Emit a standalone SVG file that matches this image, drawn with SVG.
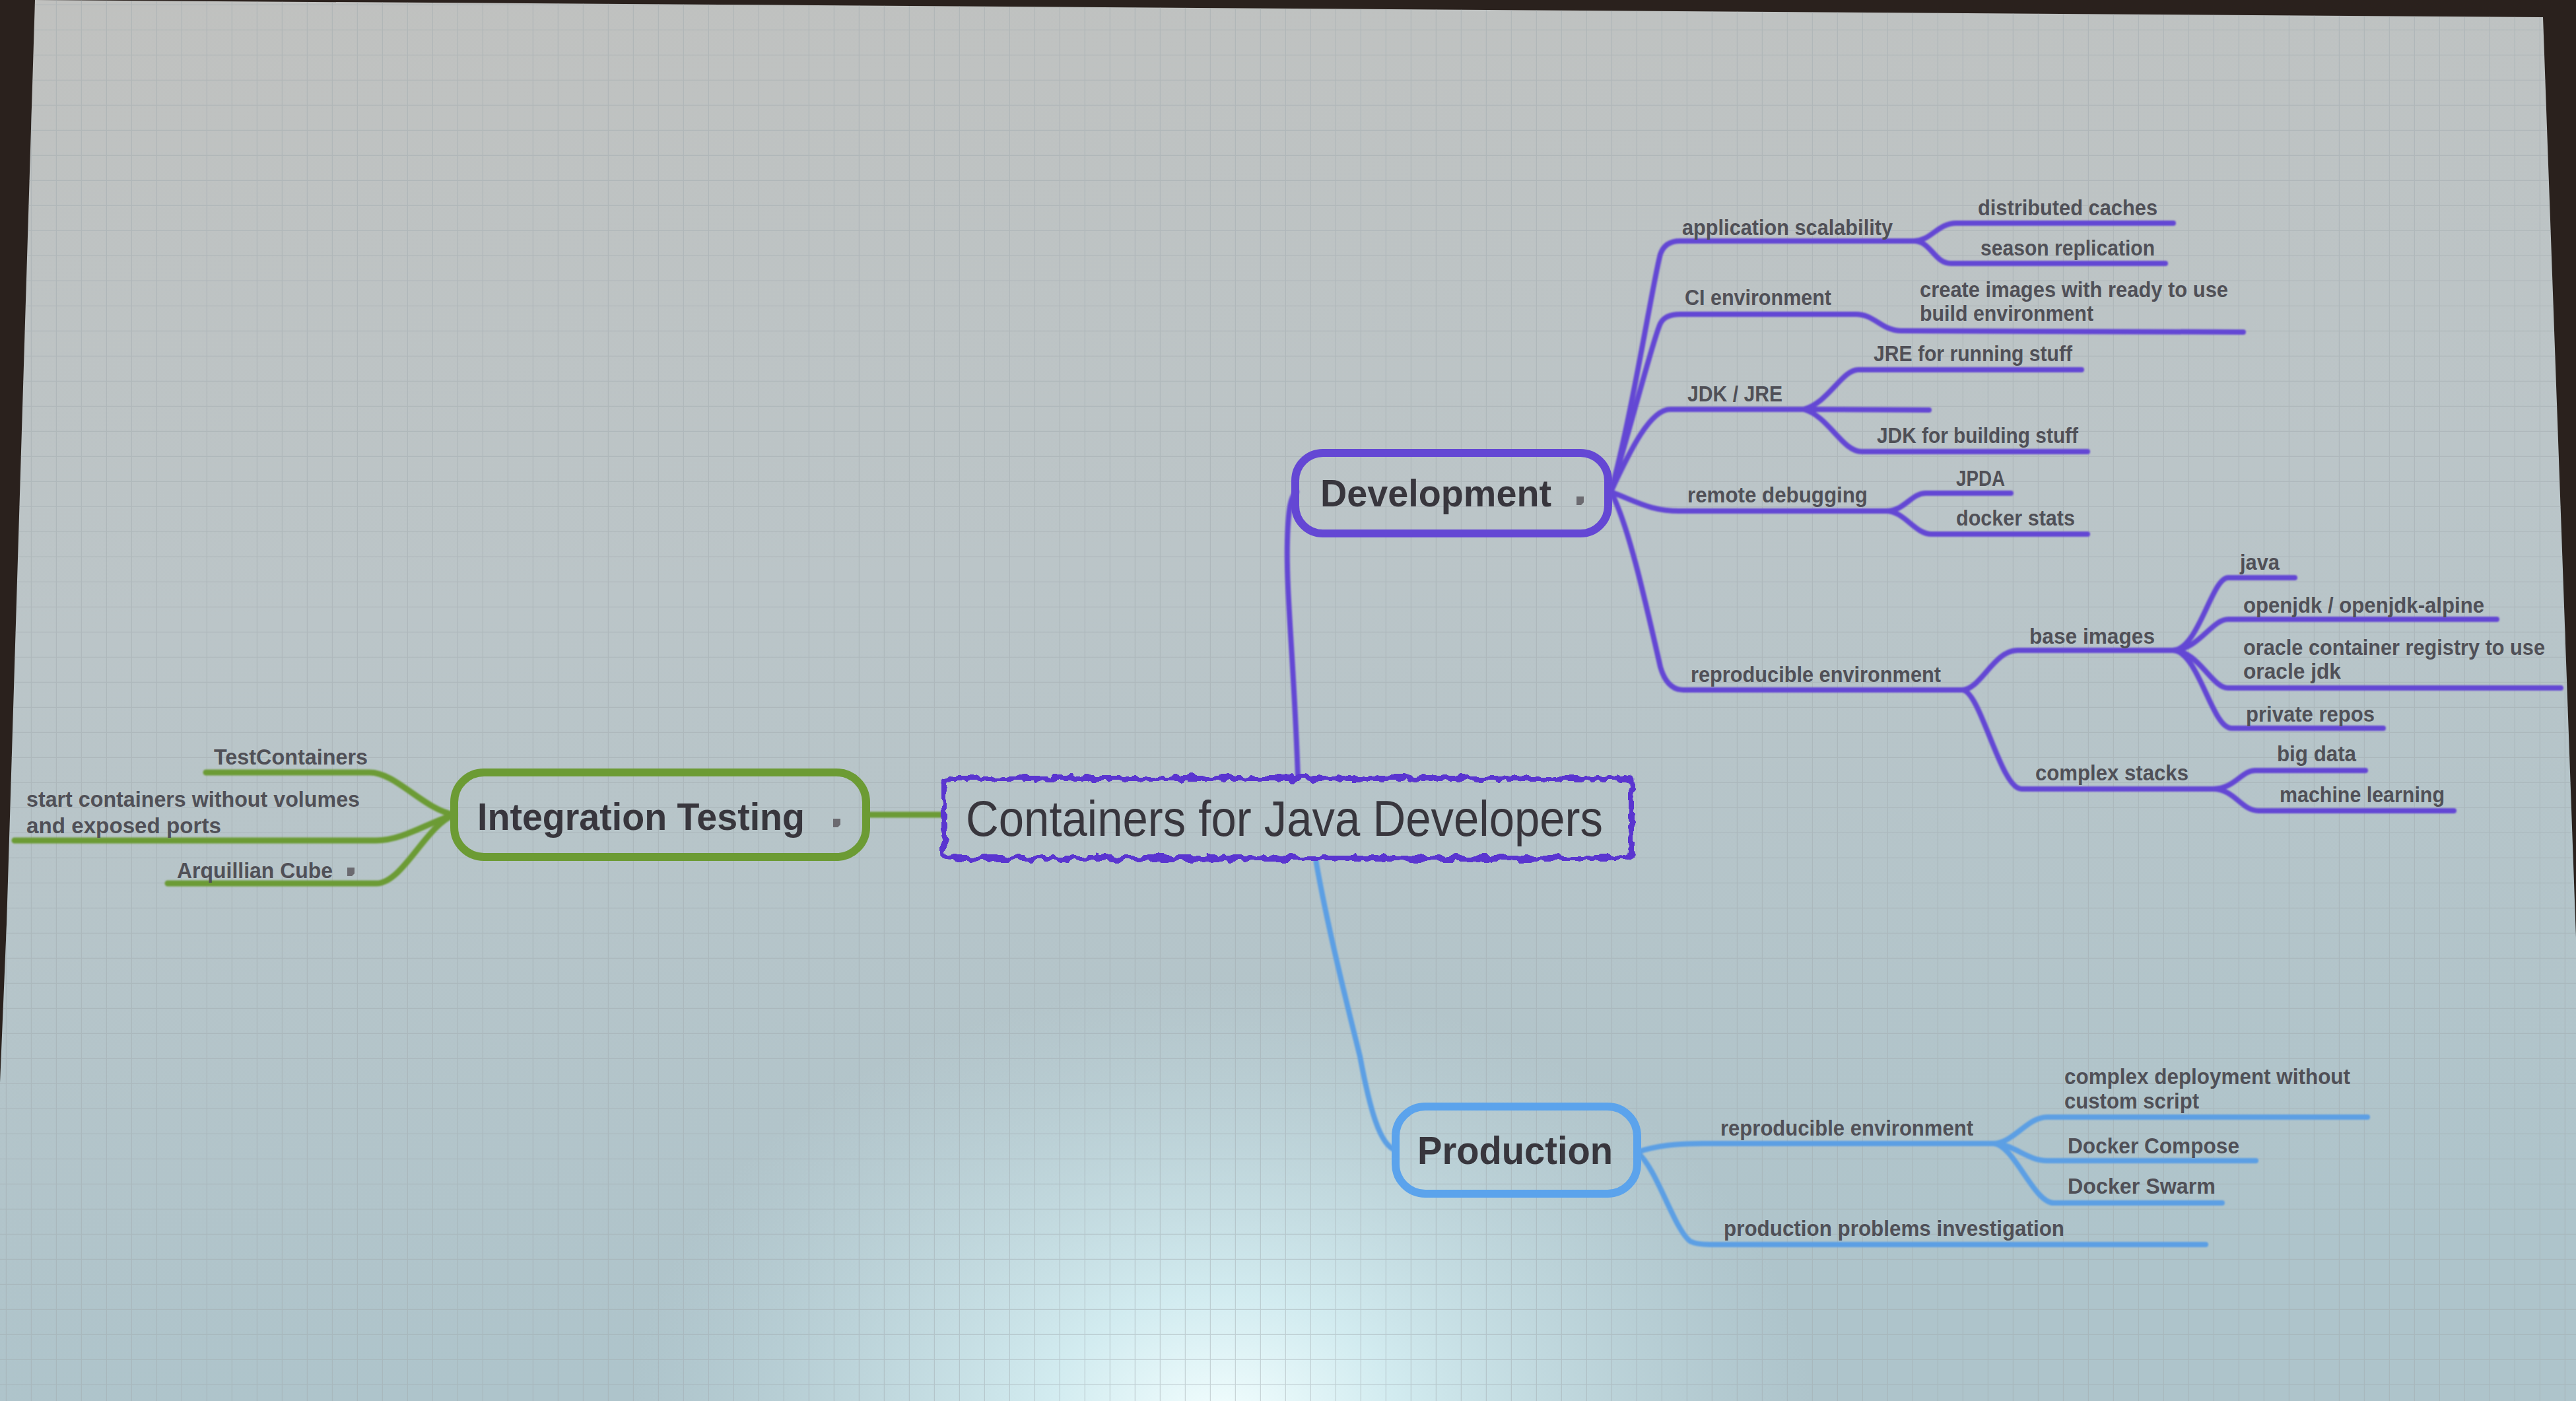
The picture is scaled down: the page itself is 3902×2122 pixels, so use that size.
<svg xmlns="http://www.w3.org/2000/svg" width="3902" height="2122" viewBox="0 0 3902 2122">
  <defs>
    <linearGradient id="bg" x1="0" y1="0" x2="0.15" y2="1">
      <stop offset="0" stop-color="#c0c1bf"/>
      <stop offset="0.45" stop-color="#bbc5c8"/>
      <stop offset="1" stop-color="#aec4cb"/>
    </linearGradient>
    <radialGradient id="glow" cx="1850" cy="2160" r="900" gradientUnits="userSpaceOnUse" gradientTransform="translate(1850 2160) scale(1 0.75) translate(-1850 -2160)">
      <stop offset="0" stop-color="#f4ffff" stop-opacity="1"/>
      <stop offset="0.3" stop-color="#d8f2f6" stop-opacity="0.85"/>
      <stop offset="1" stop-color="#c4dde3" stop-opacity="0"/>
    </radialGradient>
    <pattern id="grid" x="10" y="8" width="38" height="38" patternUnits="userSpaceOnUse">
      <path d="M38 0 V38 M0 38 H38" stroke="#9fa9ae" stroke-width="2.5" fill="none" opacity="0.45"/>
    </pattern>
    <filter id="wob" x="-5%" y="-30%" width="110%" height="160%">
      <feTurbulence type="fractalNoise" baseFrequency="0.06" numOctaves="2" seed="7" result="n"/>
      <feDisplacementMap in="SourceGraphic" in2="n" scale="15" xChannelSelector="R" yChannelSelector="G"/>
    </filter>
    <filter id="soft" x="-5%" y="-5%" width="110%" height="110%">
      <feGaussianBlur stdDeviation="1.2"/>
    </filter>
    <path id="icon" d="M0 0 h11 v9 l-4 4 h-7 z"/>
  </defs>
  <style>
    .main { font-family: "Liberation Sans", Arial, sans-serif; fill: #38363d; }
    .bold { font-weight: bold; }
    .sub { font-family: "Liberation Sans", Arial, sans-serif; font-size: 34px; font-weight: bold; fill: #505057; }
    .cp { stroke: #6447d4; fill: none; stroke-linecap: round; stroke-linejoin: round; stroke-width: 8; }
    .cg { stroke: #6c9b34; fill: none; stroke-linecap: round; stroke-linejoin: round; stroke-width: 9; }
    .cb { stroke: #5b9fe4; fill: none; stroke-linecap: round; stroke-linejoin: round; stroke-width: 8; }
    .ico { fill: #6b6a70; }
  </style>

  <!-- frame and screen -->
  <rect x="0" y="0" width="3902" height="2122" fill="#2a211d"/>
  <polygon points="53,0 3852,26 3902,1420 3902,2122 0,2122 0,1640 10,1400" fill="url(#bg)"/>
  <polygon points="53,0 3852,26 3902,1420 3902,2122 0,2122 0,1640 10,1400" fill="url(#glow)"/>
  <polygon points="53,0 3852,26 3902,1420 3902,2122 0,2122 0,1640 10,1400" fill="url(#grid)"/>

  <g id="connectors" filter="url(#soft)">
    <!-- centre to main nodes -->
    <path class="cg" d="M1312 1234 H1428" stroke-width="14"/>
    <path class="cp" d="M1966 1177 C1960 1000 1948 900 1950 820 C1951 772 1955 750 1964 745" stroke-width="10"/>
    <path class="cb" d="M1993 1302 C2010 1400 2040 1520 2060 1600 C2075 1680 2090 1735 2114 1742" stroke-width="9"/>

    <!-- integration testing children -->
    <path class="cg" d="M312 1170 L560 1170 C600 1170 640 1225 688 1234"/>
    <path class="cg" d="M22 1273 L570 1273 C610 1273 650 1245 688 1234"/>
    <path class="cg" d="M254 1338 L570 1338 C610 1338 645 1250 688 1234"/>

    <!-- development children -->
    <path class="cp" d="M2440 745 C2470 640 2505 420 2515 385 Q2522 365 2545 365 L2899 365"/>
    <path class="cp" d="M2899 365 C2925 365 2935 338 2963 338 L3292 338"/>
    <path class="cp" d="M2899 365 C2925 365 2930 399 2955 399 L3280 399"/>
    <path class="cp" d="M2440 745 C2475 630 2505 510 2515 490 Q2522 476 2545 476 L2811 476 C2840 476 2850 501 2880 501 L3398 503"/>
    <path class="cp" d="M2440 745 C2470 680 2500 620 2530 620 L2732 620"/>
    <path class="cp" d="M2732 620 C2770 610 2790 560 2815 560 L3153 560"/>
    <path class="cp" d="M2732 620 L2922 621"/>
    <path class="cp" d="M2732 620 C2770 630 2790 684 2820 684 L3162 684"/>
    <path class="cp" d="M2440 745 C2480 760 2500 774 2545 774 L2857 774"/>
    <path class="cp" d="M2857 774 C2885 774 2895 747 2917 747 L3046 747"/>
    <path class="cp" d="M2857 774 C2885 774 2900 809 2926 809 L3162 809"/>
    <path class="cp" d="M2440 745 C2465 790 2490 900 2515 1010 Q2525 1045 2550 1045 L2972 1045"/>
    <path class="cp" d="M2972 1045 C3000 1045 3020 985 3056 985 L3291 985"/>
    <path class="cp" d="M2972 1045 C3000 1045 3030 1195 3062 1195 L3352 1195"/>
    <path class="cp" d="M3291 985 C3330 985 3350 875 3375 875 L3476 875" stroke-width="7"/>
    <path class="cp" d="M3291 985 C3330 985 3350 938 3375 938 L3782 938" stroke-width="7"/>
    <path class="cp" d="M3291 985 C3330 985 3350 1042 3375 1042 L3879 1042" stroke-width="7"/>
    <path class="cp" d="M3291 985 C3330 985 3350 1103 3380 1103 L3610 1103" stroke-width="7"/>
    <path class="cp" d="M3352 1195 C3385 1195 3395 1167 3416 1167 L3583 1167" stroke-width="7"/>
    <path class="cp" d="M3352 1195 C3385 1195 3395 1228 3421 1228 L3717 1228" stroke-width="7"/>

    <!-- production children -->
    <path class="cb" d="M2480 1745 C2510 1735 2540 1732 2580 1732 L3019 1732"/>
    <path class="cb" d="M3019 1732 C3050 1732 3070 1692 3101 1692 L3586 1692" stroke-width="7"/>
    <path class="cb" d="M3019 1732 C3050 1732 3070 1758 3101 1758 L3417 1758" stroke-width="7"/>
    <path class="cb" d="M3019 1732 C3050 1732 3080 1822 3111 1822 L3366 1822" stroke-width="7"/>
    <path class="cb" d="M2480 1745 C2510 1770 2535 1860 2560 1880 Q2570 1885 2590 1885 L3341 1885"/>
  </g>

  <!-- central topic -->
  <g id="node-center">
    <rect x="1430" y="1179" width="1041" height="121" rx="10" fill="none" stroke="#5a36d0" stroke-width="8" filter="url(#wob)"/>
    <text class="main" x="1463" y="1266" font-size="76" textLength="965" lengthAdjust="spacingAndGlyphs">Containers for Java Developers</text>
  </g>

  <!-- Development -->
  <g id="node-development">
    <rect x="1962" y="686" width="474" height="122" rx="42" fill="none" stroke="#6447d4" stroke-width="12"/>
    <text class="main bold" x="2000" y="767" font-size="58" textLength="350" lengthAdjust="spacingAndGlyphs">Development</text>
    <use href="#icon" class="ico" x="2388" y="752"/>
  </g>

  <!-- Integration Testing -->
  <g id="node-integration">
    <rect x="688" y="1170" width="624" height="128" rx="45" fill="none" stroke="#6c9b34" stroke-width="12"/>
    <text class="main bold" x="723" y="1257" font-size="58" textLength="496" lengthAdjust="spacingAndGlyphs">Integration Testing</text>
    <use href="#icon" class="ico" x="1262" y="1240"/>
  </g>

  <!-- Production -->
  <g id="node-production">
    <rect x="2114" y="1676" width="366" height="132" rx="45" fill="none" stroke="#5ba3ec" stroke-width="12"/>
    <text class="main bold" x="2147" y="1763" font-size="60" textLength="296" lengthAdjust="spacingAndGlyphs">Production</text>
  </g>

  <!-- Integration testing leaves -->
  <g id="it-testcontainers"><text class="sub" x="324" y="1158" textLength="233" lengthAdjust="spacingAndGlyphs">TestContainers</text></g>
  <g id="it-start-containers">
    <text class="sub" x="40" y="1222" textLength="505" lengthAdjust="spacingAndGlyphs">start containers without volumes</text>
    <text class="sub" x="40" y="1262" textLength="295" lengthAdjust="spacingAndGlyphs">and exposed ports</text>
  </g>
  <g id="it-arquillian">
    <text class="sub" x="268" y="1330" textLength="236" lengthAdjust="spacingAndGlyphs">Arquillian Cube</text>
    <use href="#icon" class="ico" x="526" y="1314"/>
  </g>

  <!-- Development leaves -->
  <g id="dev-app-scal"><text class="sub" x="2548" y="356" textLength="319" lengthAdjust="spacingAndGlyphs">application scalability</text></g>
  <g id="dev-dist-caches"><text class="sub" x="2996" y="326" textLength="272" lengthAdjust="spacingAndGlyphs">distributed caches</text></g>
  <g id="dev-season-repl"><text class="sub" x="3000" y="387" textLength="264" lengthAdjust="spacingAndGlyphs">season replication</text></g>
  <g id="dev-ci-env"><text class="sub" x="2552" y="462" textLength="222" lengthAdjust="spacingAndGlyphs">CI environment</text></g>
  <g id="dev-create-images">
    <text class="sub" x="2908" y="450" textLength="467" lengthAdjust="spacingAndGlyphs">create images with ready to use</text>
    <text class="sub" x="2908" y="486" textLength="263" lengthAdjust="spacingAndGlyphs">build environment</text>
  </g>
  <g id="dev-jdk-jre"><text class="sub" x="2556" y="608" textLength="144" lengthAdjust="spacingAndGlyphs">JDK / JRE</text></g>
  <g id="dev-jre-running"><text class="sub" x="2838" y="547" textLength="301" lengthAdjust="spacingAndGlyphs">JRE for running stuff</text></g>
  <g id="dev-jdk-building"><text class="sub" x="2843" y="671" textLength="305" lengthAdjust="spacingAndGlyphs">JDK for building stuff</text></g>
  <g id="dev-remote-debug"><text class="sub" x="2556" y="761" textLength="273" lengthAdjust="spacingAndGlyphs">remote debugging</text></g>
  <g id="dev-jpda"><text class="sub" x="2963" y="736" textLength="74" lengthAdjust="spacingAndGlyphs">JPDA</text></g>
  <g id="dev-docker-stats"><text class="sub" x="2963" y="796" textLength="180" lengthAdjust="spacingAndGlyphs">docker stats</text></g>
  <g id="dev-repro-env"><text class="sub" x="2561" y="1033" textLength="379" lengthAdjust="spacingAndGlyphs">reproducible environment</text></g>
  <g id="dev-base-images"><text class="sub" x="3074" y="975" textLength="190" lengthAdjust="spacingAndGlyphs">base images</text></g>
  <g id="dev-java"><text class="sub" x="3393" y="863" textLength="60" lengthAdjust="spacingAndGlyphs">java</text></g>
  <g id="dev-openjdk"><text class="sub" x="3398" y="928" textLength="365" lengthAdjust="spacingAndGlyphs">openjdk / openjdk-alpine</text></g>
  <g id="dev-oracle">
    <text class="sub" x="3398" y="992" textLength="457" lengthAdjust="spacingAndGlyphs">oracle container registry to use</text>
    <text class="sub" x="3398" y="1028" textLength="148" lengthAdjust="spacingAndGlyphs">oracle jdk</text>
  </g>
  <g id="dev-private-repos"><text class="sub" x="3402" y="1093" textLength="195" lengthAdjust="spacingAndGlyphs">private repos</text></g>
  <g id="dev-complex-stacks"><text class="sub" x="3083" y="1182" textLength="232" lengthAdjust="spacingAndGlyphs">complex stacks</text></g>
  <g id="dev-big-data"><text class="sub" x="3449" y="1153" textLength="120" lengthAdjust="spacingAndGlyphs">big data</text></g>
  <g id="dev-ml"><text class="sub" x="3453" y="1215" textLength="250" lengthAdjust="spacingAndGlyphs">machine learning</text></g>

  <!-- Production leaves -->
  <g id="prod-repro-env"><text class="sub" x="2606" y="1720" textLength="383" lengthAdjust="spacingAndGlyphs">reproducible environment</text></g>
  <g id="prod-complex-deploy">
    <text class="sub" x="3127" y="1642" textLength="433" lengthAdjust="spacingAndGlyphs">complex deployment without</text>
    <text class="sub" x="3127" y="1679" textLength="204" lengthAdjust="spacingAndGlyphs">custom script</text>
  </g>
  <g id="prod-compose"><text class="sub" x="3132" y="1747" textLength="260" lengthAdjust="spacingAndGlyphs">Docker Compose</text></g>
  <g id="prod-swarm"><text class="sub" x="3132" y="1808" textLength="224" lengthAdjust="spacingAndGlyphs">Docker Swarm</text></g>
  <g id="prod-problems"><text class="sub" x="2611" y="1872" textLength="516" lengthAdjust="spacingAndGlyphs">production problems investigation</text></g>
</svg>
